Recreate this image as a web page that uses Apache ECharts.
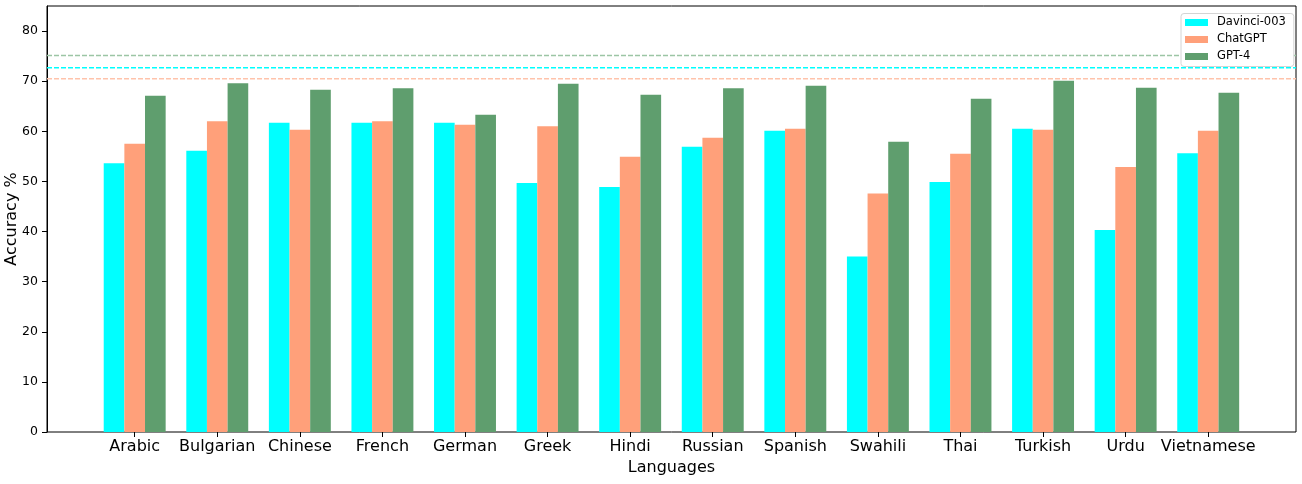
<!DOCTYPE html>
<html>
<head>
<meta charset="utf-8">
<script src="https://cdn.jsdelivr.net/npm/echarts@6/dist/echarts.min.js"></script>
<style>
html,body{margin:0;padding:0;background:#fff;}
#chart{width:1302px;height:484px;}
</style>
</head>
<body>
<div id="chart"></div>
<script>
const languages = ['Arabic','Bulgarian','Chinese','French','German','Greek','Hindi','Russian','Spanish','Swahili','Thai','Turkish','Urdu','Vietnamese'];
const davinci = [53.6, 56.1, 61.7, 61.7, 61.7, 49.7, 48.9, 56.9, 60.1, 35.0, 49.9, 60.5, 40.3, 55.6];
const chatgpt = [57.5, 62.0, 60.3, 62.0, 61.3, 61.0, 54.9, 58.7, 60.5, 47.6, 55.5, 60.3, 52.9, 60.1];
const gpt4    = [67.1, 69.6, 68.3, 68.6, 63.3, 69.5, 67.3, 68.6, 69.1, 57.9, 66.5, 70.1, 68.7, 67.7];
const avgDavinci = 72.7, avgChatgpt = 70.5, avgGpt4 = 75.1;
const yTicks = [0, 10, 20, 30, 40, 50, 60, 70, 80];

const C_CYAN = '#00ffff', C_ORANGE = '#ffa07a', C_GREEN = '#5f9e6e';
const FONT = 'DejaVu Sans';

function avgLine(name, v, color) {
  return {
    name: name, type: 'line', xAxisIndex: 0, yAxisIndex: 0, silent: true,
    data: [[0, v], [1, v]], symbol: 'none', z: 1,
    lineStyle: {color: color, type: [5, 2], width: 1.5, opacity: 1},
    itemStyle: {color: color}
  };
}

const chart = echarts.init(document.getElementById('chart'), null, {renderer: 'canvas'});
chart.setOption({
  animation: false,
  backgroundColor: '#fff',
  textStyle: {fontFamily: FONT},
  legend: {
    data: ['Davinci-003', 'ChatGPT', 'GPT-4'],
    orient: 'vertical',
    left: 1181, top: 13.5,
    backgroundColor: '#fff',
    borderColor: '#d4d4d4', borderWidth: 1, borderRadius: 3,
    padding: [3, 8, 4, 4],
    icon: 'rect',
    itemWidth: 23, itemHeight: 7, itemGap: 5,
    textStyle: {fontFamily: FONT, fontSize: 11.5, lineHeight: 12, color: '#000', padding: [0, 0, 0, 4]}
  },
  grid: [
    {left: 47, right: 6, top: 6, bottom: 52, show: true, borderColor: '#000', borderWidth: 1,
     backgroundColor: 'transparent', containLabel: false, outerBoundsMode: 'none'},
    {left: 93.4, right: 52.5, top: 6, bottom: 52, containLabel: false, outerBoundsMode: 'none'}
  ],
  xAxis: [
    {type: 'value', gridIndex: 0, min: 0, max: 1, show: false},
    {
      type: 'category', gridIndex: 1, data: languages,
      axisLine: {show: false},
      axisTick: {show: true, alignWithLabel: true, interval: 0, length: 5, lineStyle: {color: '#000'}},
      axisLabel: {fontFamily: FONT, fontSize: 16, color: '#000', margin: 7, interval: 0},
      name: 'Languages', nameLocation: 'middle', nameGap: 28, nameMoveOverlap: false,
      nameTextStyle: {fontFamily: FONT, fontSize: 16, color: '#000'}
    }
  ],
  yAxis: [
    {
      type: 'value', gridIndex: 0, min: 0, max: 85,
      axisLine: {show: true, lineStyle: {color: '#000'}},
      axisTick: {show: true, length: 5, customValues: yTicks, lineStyle: {color: '#000'}},
      axisLabel: {fontFamily: FONT, fontSize: 12.5, color: '#000', margin: 9, customValues: yTicks},
      splitLine: {show: false},
      name: 'Accuracy %', nameLocation: 'middle', nameGap: 27, nameMoveOverlap: false,
      nameTextStyle: {fontFamily: FONT, fontSize: 16, color: '#000'}
    },
    {type: 'value', gridIndex: 1, min: 0, max: 85, show: false, splitLine: {show: false}}
  ],
  series: [
    {name: 'Davinci-003', type: 'bar', xAxisIndex: 1, yAxisIndex: 1, data: davinci,
     itemStyle: {color: C_CYAN}, barGap: '0%', barCategoryGap: '25%'},
    {name: 'ChatGPT', type: 'bar', xAxisIndex: 1, yAxisIndex: 1, data: chatgpt,
     itemStyle: {color: C_ORANGE}, barGap: '0%', barCategoryGap: '25%'},
    {name: 'GPT-4', type: 'bar', xAxisIndex: 1, yAxisIndex: 1, data: gpt4,
     itemStyle: {color: C_GREEN}, barGap: '0%', barCategoryGap: '25%'},
    avgLine('avgGpt4', avgGpt4, '#9cc5a5'),
    avgLine('avgDavinci', avgDavinci, C_CYAN),
    avgLine('avgChatgpt', avgChatgpt, '#ffc3ab')
  ]
});
</script>
</body>
</html>
